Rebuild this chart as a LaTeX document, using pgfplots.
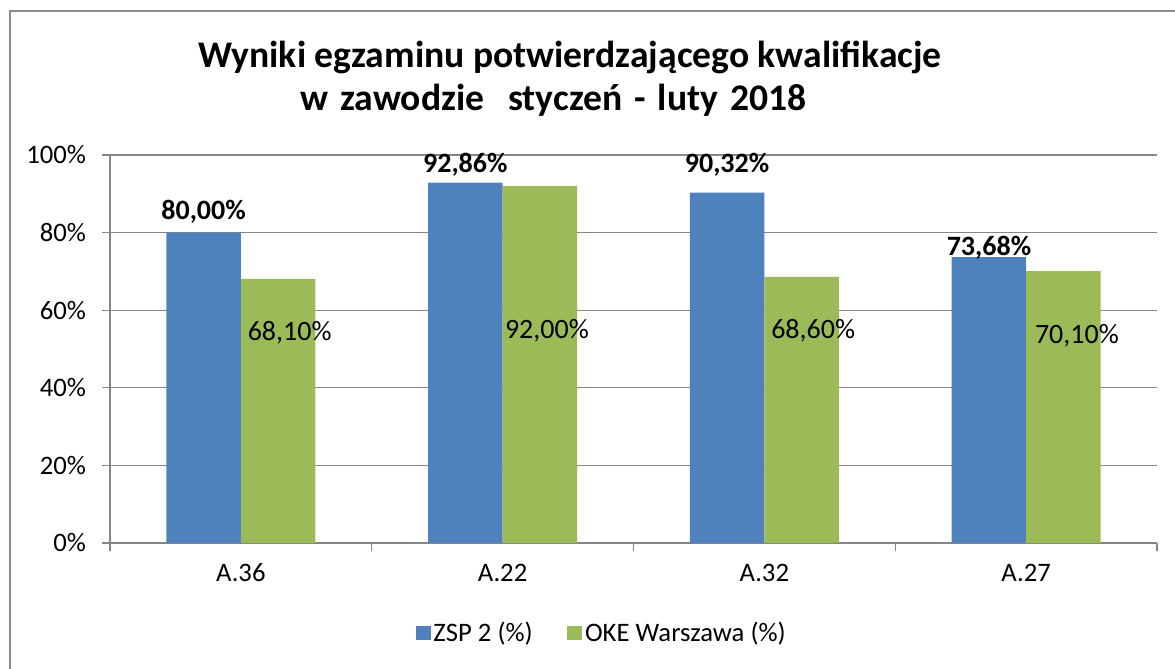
\documentclass[border=0pt]{standalone}
\usepackage{fontspec}
\setmainfont{Carlito}
\usepackage{pgfplots}
\pgfplotsset{compat=1.18}
\definecolor{zspblue}{HTML}{4F81BD}
\definecolor{okegreen}{HTML}{9BBB59}
\definecolor{gridgray}{HTML}{868686}
\definecolor{framegray}{HTML}{8C8C8C}
\begin{document}
\begin{tikzpicture}
\useasboundingbox (0,0) rectangle (881.25pt,501pt);
\draw[framegray, line width=1.5pt] (7.125pt,-2pt) -- (7.125pt,492.75pt) -- (883pt,492.75pt);
\node[anchor=base west, inner sep=0pt, font=\fontsize{28.2}{33}\selectfont\bfseries] at (148.5pt,450pt) {Wyniki egzaminu potwierdzającego kwalifikacje};
\node[anchor=base west, inner sep=0pt, font=\fontsize{28.2}{33}\selectfont\bfseries] at (225pt,417.75pt) {\spaceskip=0.32em w zawodzie\ \ styczeń - luty 2018};
\begin{axis}[
  at={(82.5pt,93.75pt)}, anchor=south west,
  scale only axis, width=785.25pt, height=291pt,
  xmin=-0.5, xmax=3.5, ymin=0, ymax=100,
  clip=false,
  axis lines*=left,
  axis line style={gridgray, line width=1pt},
  ytick={0,20,40,60,80,100},
  ymajorgrids,
  grid style={gridgray, line width=1pt},
  yticklabel={\pgfmathprintnumber{\tick}\%},
  yticklabel style={xshift=-8.5pt},
  xtick={0,1,2,3},
  xticklabels={A.36,A.22,A.32,A.27},
  xticklabel style={yshift=-6pt},
  minor xtick={-0.5,0.5,1.5,2.5,3.5},
  major x tick style={draw=none},
  minor x tick style={gridgray, line width=1pt},
  y tick style={gridgray, line width=1pt},
  tick align=outside,
  major tick length=6pt, minor tick length=6pt,
  ticklabel style={font=\fontsize{20}{24}\selectfont},
  /pgf/number format/assume math mode=true,
  legend style={at={(0.47,-0.232)}, anchor=center, draw=none, fill=none,
    legend columns=2, font=\fontsize{20}{24}\selectfont,
    /tikz/every even column/.append style={column sep=24pt}},
  legend image code/.code={\fill[#1] (0pt,-5.6pt) rectangle (11.25pt,5.6pt);},
]
\addplot[ybar, bar width=0.285, bar shift=-0.1425, fill=zspblue, draw=none]
  coordinates {(0,80) (1,92.86) (2,90.32) (3,73.68)};
\addlegendentry{ZSP 2 (\%)}
\addplot[ybar, bar width=0.285, bar shift=0.1425, fill=okegreen, draw=none]
  coordinates {(0,68.1) (1,92) (2,68.6) (3,70.1)};
\addlegendentry{OKE Warszawa (\%)}
\addplot[forget plot, draw=none, mark=none, nodes near coords, point meta=explicit symbolic,
  every node near coord/.append style={anchor=base, inner sep=0pt, font=\fontsize{21}{24}\selectfont\bfseries}]
  coordinates {(-0.1425,83.5) [80,00\%] (0.8575,95.6) [92,86\%] (1.8575,95.4) [90,32\%] (2.858,74.2) [73,68\%]};
\addplot[forget plot, draw=none, mark=none, nodes near coords, point meta=explicit symbolic,
  every node near coord/.append style={anchor=base, inner sep=0pt, font=\fontsize{21}{24}\selectfont}]
  coordinates {(0.1864,52.1) [68,10\%] (1.1692,52.8) [92,00\%] (2.1864,52.8) [68,60\%] (3.1941,51.5) [70,10\%]};
\end{axis}
\end{tikzpicture}
\end{document}
